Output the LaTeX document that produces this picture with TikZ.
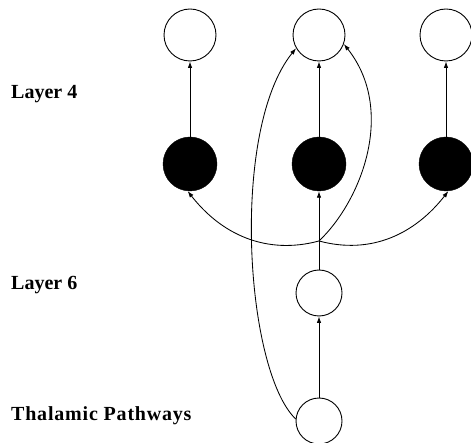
\documentclass[tikz,border=0pt]{standalone}
\usepackage{fontspec}
\setmainfont{Liberation Serif}
\usetikzlibrary{arrows.meta}
\begin{document}
\begin{tikzpicture}[x=1pt,y=-1pt,
  wcirc/.style={circle,draw=black,line width=0.9pt,fill=white,minimum size=52pt,inner sep=0pt},
  bcirc/.style={circle,draw=black,fill=black,minimum size=54pt,inner sep=0pt},
  scirc/.style={circle,draw=black,line width=0.9pt,fill=white,minimum size=46pt,inner sep=0pt},
  conn/.style={line width=0.85pt,-{Latex[length=6.5pt,width=4.5pt]}},
  lab/.style={anchor=base west,inner sep=0pt,font=\fontsize{20}{22}\selectfont\bfseries}]
\useasboundingbox (0,0) rectangle (471,443);
\node[wcirc] (tl) at (190,35) {};
\node[wcirc] (tm) at (319,35) {};
\node[wcirc] (tr) at (446,35) {};
\node[bcirc] (bl) at (190,164) {};
\node[bcirc] (bm) at (319,164) {};
\node[bcirc] (br) at (446,164) {};
\node[scirc] (l6) at (319,293) {};
\node[scirc] (th) at (319,421) {};
\coordinate (junc) at (319,241);
\node[lab] (lab4) at (11,99) {Layer 4};
\node[lab] (lab6) at (11,290) {Layer 6};
\node[lab] (labth) at (11,420) {\addfontfeatures{LetterSpace=4}Thalamic Pathways};
\draw[conn] (bl) -- (tl);
\draw[conn] (bm) -- (tm);
\draw[conn] (br) -- (tr);
\draw[conn] (th) -- (l6);
\draw[conn] (l6) -- (bm);
\draw[conn] (junc) to[out=195,in=-52] (bl.-95);
\draw[conn] (junc) to[out=-15,in=232] (br.-85);
\draw[conn] (junc) .. controls (362,200) and (396,110) .. (tm.-20);
\draw[conn] (th.175) .. controls (245,370) and (230,130) .. (tm.-150);
\end{tikzpicture}
\end{document}
